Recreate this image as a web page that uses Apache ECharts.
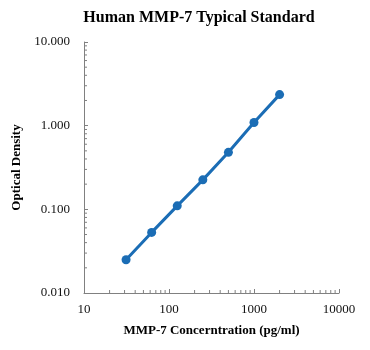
<!DOCTYPE html>
<html><head><meta charset="utf-8">
<script src="https://cdn.jsdelivr.net/npm/echarts@6/dist/echarts.min.js"></script>
<style>html,body{margin:0;padding:0;background:#fff}#c{width:370px;height:350px}</style>
</head><body><div id="c"></div>
<script>
const concentrations = [31.25, 62.5, 125, 250, 500, 1000, 2000];
const odValues = [0.025, 0.053, 0.11, 0.225, 0.48, 1.09, 2.35];
const xMinorTicks = [20,30,40,50,60,70,80,90,200,300,400,500,600,700,800,900,2000,3000,4000,5000,6000,7000,8000,9000];
const yMinorTicks = [0.02,0.03,0.04,0.05,0.06,0.07,0.08,0.09,0.2,0.3,0.4,0.5,0.6,0.7,0.8,0.9,2,3,4,5,6,7,8,9];
const titleText = 'Human MMP-7 Typical Standard';
const xName = 'MMP-7 Concerntration (pg/ml)';
const yName = 'Optical Density';

const serif = '"Liberation Serif","DejaVu Serif",serif';
const axisColor = '#808080';
const chart = echarts.init(document.getElementById('c'));
const tickData = xMinorTicks.map(v => ['x', v]).concat(yMinorTicks.map(v => ['y', v]));
chart.setOption({
  animation: false,
  title: {text: titleText, left: 194, top: 5, textAlign: 'center',
    textStyle: {fontFamily: serif, fontWeight: 'bold', fontSize: 16, color: '#000'}},
  grid: {left: 84, right: 31, top: 42, bottom: 57},
  xAxis: {type: 'log', logBase: 10, min: 10, max: 10000,
    name: xName, nameLocation: 'middle', nameGap: 31,
    nameTextStyle: {fontFamily: serif, fontWeight: 'bold', fontSize: 13, color: '#000'},
    axisLine: {lineStyle: {color: axisColor}},
    axisTick: {inside: true, length: 4, lineStyle: {color: axisColor}},
    axisLabel: {fontFamily: serif, fontSize: 13, color: '#111', margin: 10,
      formatter: v => String(Math.round(v))},
    splitLine: {show: false}},
  yAxis: {type: 'log', logBase: 10, min: 0.01, max: 10,
    name: yName, nameLocation: 'middle', nameGap: 58,
    nameTextStyle: {fontFamily: serif, fontWeight: 'bold', fontSize: 13, color: '#000'},
    axisLine: {show: true, lineStyle: {color: axisColor}},
    axisTick: {show: true, inside: true, length: 4, lineStyle: {color: axisColor}},
    axisLabel: {fontFamily: serif, fontSize: 13, color: '#111', margin: 14,
      formatter: v => Number(v).toFixed(3)},
    splitLine: {show: false}},
  series: [
    {type: 'custom', data: tickData, silent: true, z: 1,
      renderItem: function (params, api) {
        const axis = tickData[params.dataIndex][0];
        const v = tickData[params.dataIndex][1];
        let p, shape;
        if (axis === 'x') {
          p = api.coord([v, 0.01]);
          shape = {x1: p[0], y1: p[1], x2: p[0], y2: p[1] - 3};
        } else {
          p = api.coord([10, v]);
          shape = {x1: p[0], y1: p[1], x2: p[0] + 3, y2: p[1]};
        }
        return {type: 'line', shape: shape, style: {stroke: axisColor, lineWidth: 1}};
      },
      encode: {x: -1, y: -1}},
    {type: 'line', data: concentrations.map((c, i) => [c, odValues[i]]),
      symbol: 'circle', symbolSize: 9,
      lineStyle: {color: '#1b6db5', width: 3},
      itemStyle: {color: '#1b6db5'}, z: 3}
  ]
});
</script></body></html>
